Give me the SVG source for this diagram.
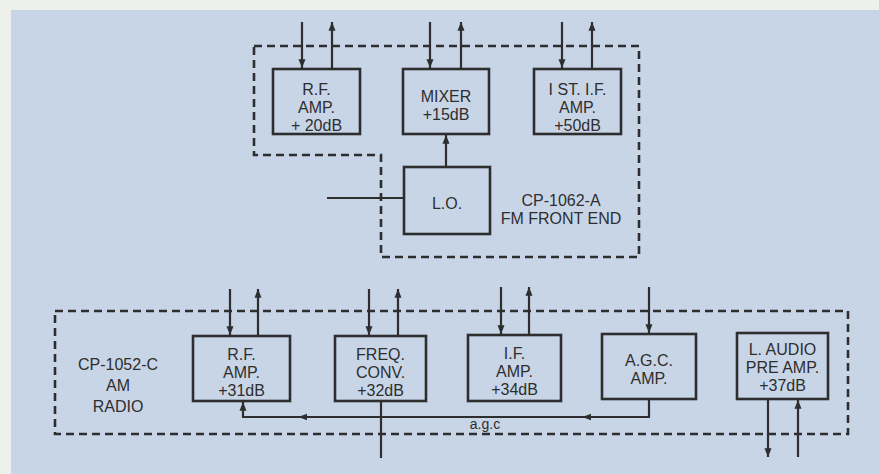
<svg xmlns="http://www.w3.org/2000/svg" width="879" height="474" viewBox="0 0 879 474">
<defs>
<style>
.box{fill:none;stroke:#2e2e2e;stroke-width:2.6}
.dash{fill:none;stroke:#2e2e2e;stroke-width:2.6;stroke-dasharray:8 5}
.ln{fill:none;stroke:#2e2e2e;stroke-width:2.2}
text{font-family:"Liberation Sans",Arial,sans-serif;font-size:16px;fill:#2e2e2e;text-anchor:middle}
</style>
<marker id="ah" viewBox="0 0 10 10" refX="10" refY="5" markerWidth="4" markerHeight="4" orient="auto" markerUnits="strokeWidth">
<path d="M0,1 L10,5 L0,9 Z" fill="#2e2e2e"/>
</marker>
<marker id="mid" viewBox="0 0 10 10" refX="5" refY="5" markerWidth="4" markerHeight="4" orient="auto" markerUnits="strokeWidth">
<path d="M0,1 L10,5 L0,9 Z" fill="#2e2e2e"/>
</marker>
</defs>
<rect x="0" y="0" width="879" height="474" fill="#eef0ec"/>
<rect x="11" y="10" width="868" height="464" fill="#c8d5e7"/>

<g id="fm-frontend">
<path class="dash" d="M254,46 H639 V257 H381 V155 H254 Z"/>
<text x="561" y="206">CP-1062-A</text>
<text x="561" y="224">FM FRONT END</text>
</g>
<g id="am-radio">
<rect class="dash" x="55" y="311" width="793" height="123"/>
<text x="118" y="370">CP-1052-C</text>
<text x="118" y="391">AM</text>
<text x="118" y="412">RADIO</text>
</g>

<g id="fm-rf-amp">
<rect class="box" x="273" y="69" width="87" height="65"/>
<text x="316.5" y="95">R.F.</text>
<text x="316.5" y="113">AMP.</text>
<text x="316.5" y="131">+ 20dB</text>
</g>
<g id="fm-mixer">
<rect class="box" x="403" y="69" width="86" height="65"/>
<text x="446" y="102">MIXER</text>
<text x="446" y="120">+15dB</text>
</g>
<g id="fm-if-amp">
<rect class="box" x="534" y="69" width="87" height="65"/>
<text x="577.5" y="95">I ST. I.F.</text>
<text x="577.5" y="113">AMP.</text>
<text x="577.5" y="131">+50dB</text>
</g>
<g id="fm-lo">
<rect class="box" x="404" y="167" width="86" height="67"/>
<text x="447" y="209">L.O.</text>
</g>

<g id="am-rf-amp">
<rect class="box" x="193" y="336" width="97" height="65"/>
<text x="241.5" y="360">R.F.</text>
<text x="241.5" y="378">AMP.</text>
<text x="241.5" y="396">+31dB</text>
</g>
<g id="am-freq-conv">
<rect class="box" x="335" y="336" width="91" height="65"/>
<text x="380.5" y="360">FREQ.</text>
<text x="380.5" y="378">CONV.</text>
<text x="380.5" y="396">+32dB</text>
</g>
<g id="am-if-amp">
<rect class="box" x="468" y="335" width="93" height="66"/>
<text x="514.5" y="359">I.F.</text>
<text x="514.5" y="377">AMP.</text>
<text x="514.5" y="395">+34dB</text>
</g>
<g id="am-agc-amp">
<rect class="box" x="602" y="334" width="94" height="65"/>
<text x="649" y="366">A.G.C.</text>
<text x="649" y="384">AMP.</text>
</g>
<g id="am-audio-preamp">
<rect class="box" x="737" y="333" width="91" height="66"/>
<text x="782.5" y="355">L. AUDIO</text>
<text x="782.5" y="373">PRE AMP.</text>
<text x="782.5" y="391">+37dB</text>
</g>

<g id="connectors">
<line class="ln" x1="302" y1="22" x2="302" y2="68" marker-end="url(#ah)"/>
<line class="ln" x1="332" y1="68" x2="332" y2="22" marker-end="url(#ah)"/>
<line class="ln" x1="430" y1="22" x2="430" y2="68" marker-end="url(#ah)"/>
<line class="ln" x1="461" y1="68" x2="461" y2="22" marker-end="url(#ah)"/>
<line class="ln" x1="562" y1="22" x2="562" y2="68" marker-end="url(#ah)"/>
<line class="ln" x1="592" y1="68" x2="592" y2="22" marker-end="url(#ah)"/>
<line class="ln" x1="446" y1="167" x2="446" y2="135" marker-end="url(#ah)"/>
<line class="ln" x1="327" y1="198" x2="404" y2="198"/>
<line class="ln" x1="230" y1="289" x2="230" y2="335" marker-end="url(#ah)"/>
<line class="ln" x1="258" y1="335" x2="258" y2="289" marker-end="url(#ah)"/>
<line class="ln" x1="369" y1="289" x2="369" y2="335" marker-end="url(#ah)"/>
<line class="ln" x1="398" y1="335" x2="398" y2="289" marker-end="url(#ah)"/>
<line class="ln" x1="381" y1="401" x2="381" y2="458"/>
<line class="ln" x1="501" y1="287" x2="501" y2="334" marker-end="url(#ah)"/>
<line class="ln" x1="529" y1="334" x2="529" y2="287" marker-end="url(#ah)"/>
<line class="ln" x1="649" y1="287" x2="649" y2="333" marker-end="url(#ah)"/>
<line class="ln" x1="768" y1="399" x2="768" y2="457" marker-end="url(#ah)"/>
<line class="ln" x1="798" y1="457" x2="798" y2="400" marker-end="url(#ah)"/>
<path class="ln" d="M649,399 V417 H587" marker-end="url(#mid)"/>
<path class="ln" d="M587,417 H303" marker-end="url(#mid)"/>
<path class="ln" d="M303,417 H243 V402" marker-end="url(#ah)"/>
<text x="485" y="429" style="font-size:14px">a.g.c</text>
</g>
</svg>
